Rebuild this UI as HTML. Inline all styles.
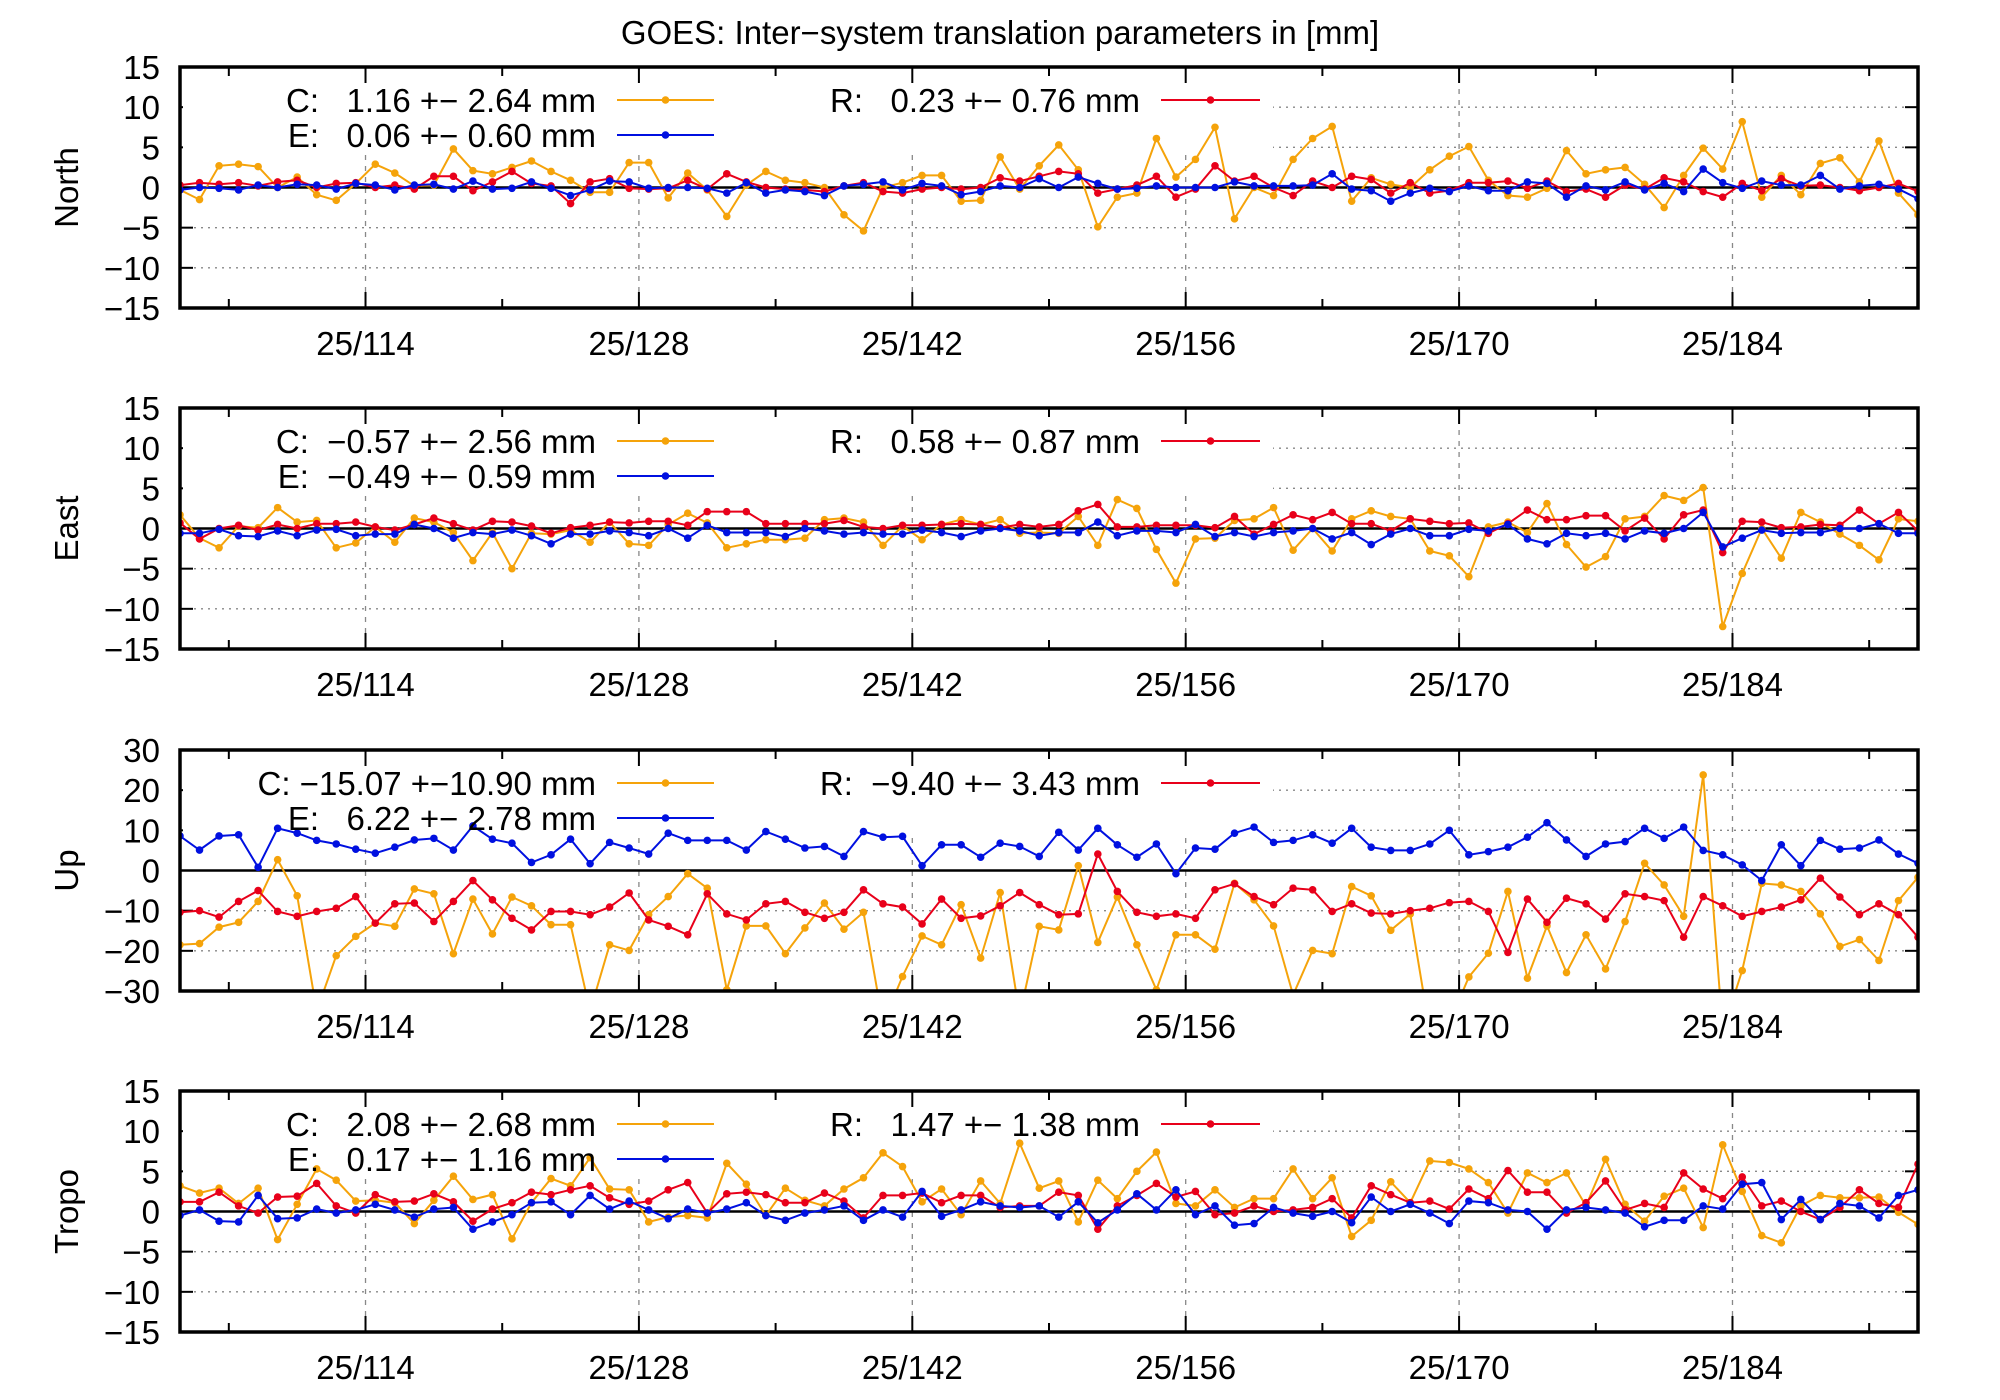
<!DOCTYPE html>
<html><head><meta charset="utf-8"><style>
html,body{margin:0;padding:0;background:#fff;}
svg{display:block;font-family:"Liberation Sans",sans-serif;}
</style></head><body>
<svg id="chart" width="2000" height="1400" viewBox="0 0 2000 1400" xmlns="http://www.w3.org/2000/svg">
<text x="1000" y="44" font-size="33" text-anchor="middle">GOES: Inter−system translation parameters in [mm]</text>
</svg>
<script>
const xTickLabels = ["25/114","25/128","25/142","25/156","25/170","25/184"];
const xTickDays = [114,128,142,156,170,184];
const startDay = 104.5;
const panelNames = ["North","East","Up","Tropo"];
const panelRanges = [[-15,15],[-15,15],[-30,30],[-15,15]];
const panelSteps = [5,5,10,5];
const legendC = ["C:   1.16 +− 2.64 mm","C:  −0.57 +− 2.56 mm","C: −15.07 +−10.90 mm","C:   2.08 +− 2.68 mm"];
const legendE = ["E:   0.06 +− 0.60 mm","E:  −0.49 +− 0.59 mm","E:   6.22 +− 2.78 mm","E:   0.17 +− 1.16 mm"];
const legendR = ["R:   0.23 +− 0.76 mm","R:   0.58 +− 0.87 mm","R:  −9.40 +− 3.43 mm","R:   1.47 +− 1.38 mm"];

const northC = [-0.3,-1.5,2.7,2.9,2.6,0,1.3,-0.9,-1.6,0.5,2.9,1.8,0.2,0.3,4.8,2.1,1.7,2.5,3.3,2,0.9,-0.6,-0.6,3.1,3.1,-1.3,1.8,-0.3,-3.6,0.3,2.0,0.9,0.6,0,-3.4,-5.4,0,0.6,1.5,1.5,-1.7,-1.6,3.8,-0.2,2.7,5.3,2.2,-4.9,-1.2,-0.7,6.1,1.3,3.5,7.5,-3.9,0,-1,3.5,6.1,7.6,-1.7,1.2,0.4,0,2.2,3.9,5.1,0.9,-1,-1.2,-0.1,4.6,1.7,2.2,2.5,0.4,-2.5,1.5,4.9,2.3,8.2,-1.2,1.5,-0.9,3,3.7,0.7,5.8,-0.7,-3.4];
const northR = [0.3,0.6,0.4,0.6,0.2,0.7,0.9,0,0.5,0.6,0,0.3,-0.2,1.4,1.4,-0.4,0.7,2.0,0.5,0.2,-2.0,0.7,1.1,-0.1,-0.2,-0.1,0.9,-0.2,1.7,0.7,0,-0.2,-0.3,-0.5,0.2,0.6,-0.5,-0.7,-0.2,0,-0.2,0,1.2,0.8,1.4,2.0,1.7,-0.7,-0.2,0.3,1.4,-1.2,-0.2,2.7,0.8,1.4,0,-1.0,0.8,0,1.4,1.0,-0.7,0.6,-0.7,-0.4,0.6,0.6,0.8,-0.1,0.8,-0.5,-0.2,-1.2,0.3,-0.2,1.2,0.7,-0.5,-1.2,0.5,-0.4,1.1,0.2,0.3,0,-0.4,0,0.5,-0.5];
const northE = [-0.3,0,-0.1,-0.3,0.3,0,0.4,0.3,-0.2,0.5,0.3,-0.3,0.3,0.4,-0.2,0.8,-0.2,-0.1,0.7,-0.1,-1.0,-0.3,0.8,0.7,-0.1,0,0,-0.1,-0.7,0.6,-0.7,-0.3,-0.5,-1.0,0.2,0.4,0.7,-0.3,0.5,0.2,-0.9,-0.5,0.2,0,1.1,0,1.3,0.5,-0.2,-0.1,0.2,0,0,0,0.7,0.2,0.2,0.2,0.3,1.7,-0.2,-0.4,-1.7,-0.7,-0.1,-0.5,0.2,-0.4,-0.4,0.7,0.5,-1.2,0.2,-0.3,0.7,-0.3,0.5,-0.5,2.3,0.6,-0.1,0.8,0.3,0.3,1.5,-0.2,0.2,0.4,-0.2,-1.4];

const eastC = [1.7,-1.2,-2.4,0.3,0.1,2.6,0.8,1.0,-2.4,-1.8,0.2,-1.7,1.3,0.8,-0.5,-4.0,-0.5,-5.0,-0.6,-0.7,-0.2,-1.7,0.8,-1.9,-2.1,0.5,1.9,0.7,-2.4,-1.9,-1.4,-1.4,-1.2,1.1,1.3,0.8,-2.1,0.3,-1.4,0.5,1.1,0.5,1.1,-0.6,-0.5,-0.6,1.5,-2.1,3.6,2.5,-2.6,-6.8,-1.3,-1.2,1.0,1.2,2.6,-2.7,0,-2.8,1.2,2.2,1.5,1.2,-2.8,-3.4,-6.0,0.2,0.8,-0.5,3.1,-2.0,-4.8,-3.5,1.2,1.5,4.1,3.5,5.1,-12.2,-5.6,0,-3.7,2.0,0.8,-0.7,-2.1,-3.9,1.2,0.9];
const eastR = [0.7,-1.3,0,0.4,-0.2,0.5,0,0.6,0.6,0.8,0.2,-0.2,0.5,1.3,0.6,-0.2,0.9,0.8,0.3,-0.6,0.1,0.4,0.8,0.7,0.9,0.9,0.4,2.1,2.1,2.1,0.6,0.6,0.6,0.6,1.0,0.2,0,0.4,0.4,0.5,0.6,0.5,0.1,0.5,0.2,0.5,2.2,3.0,0.2,0.2,0.4,0.4,0.4,0.1,1.5,-0.7,0.5,1.7,1.1,2.0,0.6,0.6,-0.3,1.2,0.9,0.6,0.7,-0.6,0.6,2.3,1.1,1.1,1.6,1.6,-0.3,1.3,-1.3,1.7,2.3,-3.0,0.9,0.8,0.1,0.2,0.5,0.4,2.3,0.6,2.0,-0.3];
const eastE = [-0.6,-0.6,-0.1,-0.9,-1.0,-0.3,-0.9,-0.2,-0.1,-0.9,-0.7,-0.7,0.5,0,-1.2,-0.5,-0.7,-0.2,-0.9,-1.9,-0.7,-0.7,-0.3,-0.5,-0.9,0,-1.2,0.4,-0.5,-0.5,-0.5,-1.0,0,-0.3,-0.7,-0.5,-0.7,-0.7,-0.2,-0.5,-1.0,-0.3,0,-0.3,-0.9,-0.5,-0.5,0.8,-0.9,-0.3,-0.3,-0.5,0.5,-1.0,-0.5,-1.0,-0.5,-0.3,0,-1.3,-0.5,-2.0,-0.7,0,-0.9,-0.9,-0.1,-0.3,0.5,-1.3,-1.9,-0.6,-0.9,-0.6,-1.3,-0.3,-0.6,0,2.0,-2.3,-1.2,-0.2,-0.6,-0.5,-0.5,0,0,0.6,-0.6,-0.6];

const upC = [-18.5,-18.2,-14.1,-12.9,-7.7,2.7,-6.3,-35,-21.2,-16.4,-13.1,-13.9,-4.6,-5.8,-20.7,-7.1,-15.8,-6.6,-8.8,-13.5,-13.5,-35,-18.5,-19.9,-11.0,-6.5,-0.8,-4.4,-29.7,-13.8,-13.8,-20.7,-14.3,-8.1,-14.6,-10.4,-38,-26.4,-16.3,-18.5,-8.5,-21.8,-5.5,-36,-13.9,-14.8,1.2,-17.9,-6.6,-18.5,-29.7,-16.0,-16.0,-19.6,-3.2,-7.3,-13.8,-31,-19.9,-20.7,-4.0,-6.3,-14.9,-10.8,-40,-38,-26.5,-20.6,-5.2,-26.8,-13.8,-25.4,-16.0,-24.5,-12.7,1.8,-3.6,-11.4,23.8,-40,-24.9,-3.2,-3.6,-5.2,-10.8,-18.9,-17.2,-22.4,-7.5,-1.7];
const upR = [-10.4,-10.0,-11.6,-7.7,-5.0,-10.2,-11.4,-10.2,-9.4,-6.5,-13.1,-8.3,-8.1,-12.7,-7.7,-2.5,-7.3,-11.9,-14.8,-10.2,-10.2,-11.0,-9.1,-5.6,-12.3,-13.9,-16.0,-5.8,-10.8,-12.3,-8.3,-7.7,-10.4,-11.9,-10.4,-4.8,-8.3,-9.1,-13.3,-7.1,-11.9,-11.3,-8.8,-5.5,-8.5,-11.0,-10.8,4.1,-5.2,-10.4,-11.4,-10.8,-11.9,-4.8,-3.3,-6.5,-8.5,-4.4,-4.8,-10.2,-8.3,-10.6,-10.8,-10.0,-9.4,-8.0,-7.7,-10.2,-20.4,-7.1,-12.9,-6.9,-8.3,-12.1,-5.8,-6.5,-7.5,-16.6,-6.5,-8.8,-11.4,-10.2,-9.1,-7.3,-1.9,-6.6,-11.0,-8.3,-11.0,-16.6];
const upE = [8.6,5.1,8.6,8.9,0.8,10.5,9.3,7.5,6.6,5.3,4.3,5.8,7.6,8.0,5.1,11.1,7.8,6.8,2.0,3.9,7.8,1.7,7.0,5.6,4.1,9.3,7.5,7.5,7.5,5.1,9.7,7.8,5.6,6.0,3.5,9.7,8.3,8.5,1.2,6.4,6.4,3.3,6.8,6.0,3.5,9.5,5.1,10.5,6.4,3.3,6.6,-0.8,5.6,5.3,9.3,10.8,7.0,7.5,8.9,6.8,10.5,5.8,5.0,5.0,6.6,10.0,3.9,4.7,5.8,8.3,11.9,7.6,3.5,6.6,7.2,10.5,8.0,10.8,5.0,3.9,1.4,-2.5,6.4,1.2,7.5,5.3,5.6,7.6,4.1,1.8];

const tropoC = [3.2,2.3,2.9,1.0,2.9,-3.5,0.9,5.3,3.9,1.3,1.4,1.1,-1.5,1.4,4.4,1.5,2.1,-3.4,1.1,4.1,3.2,6.7,2.8,2.7,-1.3,-0.7,-0.5,-0.8,6.0,3.4,-0.5,2.9,1.4,0.7,2.8,4.2,7.3,5.6,1.2,2.8,-0.4,3.8,1.0,8.5,2.9,3.8,-1.3,3.9,1.6,5.0,7.4,1.0,0.7,2.7,0.5,1.6,1.6,5.3,1.6,4.2,-3.1,-1.1,3.7,1.1,6.3,6.1,5.3,3.6,-0.2,4.8,3.6,4.8,0.7,6.5,0.9,-1.2,1.9,2.9,-2.0,8.3,2.5,-3.0,-3.9,0.7,2.0,1.7,1.7,1.8,-0.1,-1.6];
const tropoR = [1.2,1.2,2.4,0.7,-0.2,1.8,1.9,3.5,0.7,-0.2,2.1,1.2,1.3,2.2,1.2,-1.2,0.3,1.1,2.4,2.1,2.7,3.2,1.7,0.9,1.3,2.7,3.6,-0.2,2.2,2.4,2.1,1.1,1.1,2.3,1.3,-0.8,2.0,2.0,2.3,1.1,2.0,2.0,0.5,0.7,0.7,2.4,2.0,-2.2,0.7,2.0,3.5,1.8,2.5,-0.4,-0.2,0.7,0,0.2,0.5,1.6,-0.8,3.2,2.1,1.1,1.3,0.3,2.8,1.6,5.1,2.4,2.4,-0.2,1.1,3.8,0.2,1.0,0.5,4.8,2.8,1.6,4.3,0.7,1.3,0,-1.0,0.5,2.7,1.0,0.5,5.9];
const tropoE = [-0.5,0.2,-1.2,-1.3,2.0,-0.9,-0.8,0.3,-0.2,0.2,0.9,0.2,-0.7,0.3,0.5,-2.2,-1.3,-0.4,1.1,1.2,-0.4,2.0,0.3,1.3,0.2,-0.9,0.3,-0.2,0.3,1.1,-0.5,-1.1,-0.2,0.2,0.7,-1.1,0.2,-0.7,2.5,-0.6,0.2,1.2,0.7,0.5,0.7,-0.7,1.2,-1.4,0.2,2.2,0.2,2.7,-0.4,0.7,-1.7,-1.5,0.5,-0.2,-0.6,0,-1.4,1.8,0,0.9,-0.2,-1.5,1.3,1.1,0.2,0,-2.2,0.2,0.5,0.2,-0.2,-1.9,-1.1,-1.1,0.7,0.3,3.4,3.6,-1.0,1.5,-1.0,1.0,0.7,-0.8,2.0,2.7];

const seriesC = [northC, eastC, upC, tropoC];
const seriesR = [northR, eastR, upR, tropoR];
const seriesE = [northE, eastE, upE, tropoE];

const NS = "http://www.w3.org/2000/svg";
const svg = document.getElementById("chart");
const L = 180, R = 1918, PH = 241;
const tops = [67, 408, 750, 1091];
const xMin = 104.5, xMax = 193.5;
const FS = 33;
function xScale(d){ return L + (d - xMin) / (xMax - xMin) * (R - L); }
function mk(tag, attrs, parent){ const e = document.createElementNS(NS, tag); for (const k in attrs) e.setAttribute(k, attrs[k]); (parent||svg).appendChild(e); return e; }

const colC = "#f5a30a", colR = "#e8001a", colE = "#0010e0";

for (let p = 0; p < 4; p++) {
  const T = tops[p], B = T + PH;
  const [lo, hi] = panelRanges[p];
  const yScale = v => B - (v - lo) / (hi - lo) * PH;
  const g = mk("g", {});
  
  
  const cp = mk("clipPath", {id: "clip" + p}, g);
  mk("rect", {x: L, y: T, width: R - L, height: PH}, cp);
  xTickDays.forEach(d => {
    const gl = mk("line", {x1: xScale(d), x2: xScale(d), y1: T, y2: B, stroke: "#888", "stroke-width": 1.3, "stroke-dasharray": "5,6"}, g);
    
    
  });
  for (let v = lo; v <= hi; v += panelSteps[p]) {
    const y = yScale(v);
    if (v !== lo && v !== hi && v !== 0) {
      const hl = mk("line", {x1: L, x2: R, y1: y, y2: y, stroke: "#888", "stroke-width": 1.3, "stroke-dasharray": "2,5"}, g);
      
      
    }
    const tl = mk("text", {x: 160, y: y + 12, "font-size": FS, "text-anchor": "end"}, g);
    tl.textContent = v < 0 ? "−" + Math.abs(v) : String(v);
    
    
    mk("line", {x1: L, x2: L + 13, y1: y, y2: y, stroke: "#000", "stroke-width": 2}, g);
    mk("line", {x1: R - 13, x2: R, y1: y, y2: y, stroke: "#000", "stroke-width": 2}, g);
  }
  const kb = mk("rect", {x: L + 3, y: T + 3, width: 1273 - L - 3, height: 80, fill: "#fff"}, g);
  
  
  const zl = mk("line", {x1: L, x2: R, y1: yScale(0), y2: yScale(0), stroke: "#000", "stroke-width": 2.5}, g);
  
  
  for (let d = 107; d <= 193; d += 7) {
    const major = xTickDays.indexOf(d) >= 0;
    const len = major ? 16 : 9;
    mk("line", {x1: xScale(d), x2: xScale(d), y1: T, y2: T + len, stroke: "#000", "stroke-width": 2}, g);
    mk("line", {x1: xScale(d), x2: xScale(d), y1: B - len, y2: B, stroke: "#000", "stroke-width": 2}, g);
  }
  xTickLabels.forEach((lab, i) => {
    const t = mk("text", {x: xScale(xTickDays[i]), y: B + 47, "font-size": FS, "text-anchor": "middle"}, g);
    t.textContent = lab;
    
    
  });
  const sets = [[seriesC[p], colC, "series-c"], [seriesR[p], colR, "series-r"], [seriesE[p], colE, "series-e"]];
  const sg = mk("g", {"clip-path": "url(#clip" + p + ")"}, g);
  sets.forEach(([arr, col, nm]) => {
    const pts = arr.map((v, i) => xScale(startDay + i).toFixed(1) + "," + yScale(v).toFixed(1)).join(" ");
    const pl = mk("polyline", {points: pts, fill: "none", stroke: col, "stroke-width": 2}, sg);
    
    
    arr.forEach((v, i) => {
      const c = mk("circle", {cx: xScale(startDay + i), cy: yScale(v), r: 3.8, fill: col}, sg);
      
      
    });
  });
  const leg = [[legendC[p], colC, 596, 617, 714, T + 33], [legendE[p], colE, 596, 617, 714, T + 68], [legendR[p], colR, 1140, 1161, 1260, T + 33]];
  leg.forEach(([txt, col, tx, x1, x2, y]) => {
    const t = mk("text", {x: tx, y: y + 12, "font-size": FS, "text-anchor": "end"}, g);
    t.setAttribute("xml:space", "preserve");
    t.style.whiteSpace = "pre";
    t.textContent = txt;
    
    
    mk("line", {x1: x1, x2: x2, y1: y, y2: y, stroke: col, "stroke-width": 2}, g);
    mk("circle", {cx: (x1 + x2) / 2, cy: y, r: 3.8, fill: col}, g);
  });
  const bd = mk("rect", {x: L, y: T, width: R - L, height: PH, fill: "none", stroke: "#000", "stroke-width": 3.5}, g);
  
  
  const cy = T + PH / 2;
  const yl = mk("text", {x: 0, y: 0, "font-size": FS, "text-anchor": "middle", transform: "translate(78," + cy + ") rotate(-90)"}, g);
  yl.textContent = panelNames[p];
  
  
}
</script>
</body></html>
